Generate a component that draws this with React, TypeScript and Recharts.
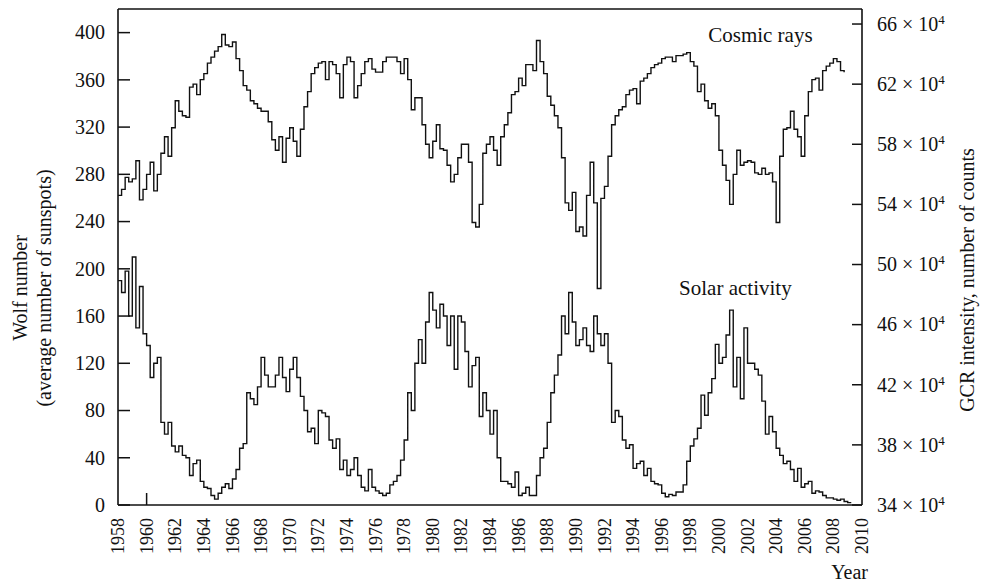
import React from 'react';
import { LineChart, Line, XAxis, YAxis, ReferenceLine, ReferenceDot } from 'recharts';

// quarterly readings, first one at the start of 1958
const START_YEAR = 1958;
const STEPS_PER_YEAR = 4;

// Wolf number (average number of sunspots), 1958.00 ... 2009.25
const wolfNumber: number[] = [
  190, 180, 198, 160, // 1958
  210, 150, 185, 145, // 1959
  135, 108, 120, 125, // 1960
  70, 60, 70, 50, // 1961
  45, 50, 42, 40, // 1962
  25, 35, 38, 20, // 1963
  15, 14, 8, 5, // 1964
  10, 15, 18, 14, // 1965
  22, 30, 48, 52, // 1966
  95, 90, 85, 100, // 1967
  125, 110, 100, 100, // 1968
  110, 125, 108, 96, // 1969
  115, 125, 108, 92, // 1970
  80, 62, 65, 52, // 1971
  80, 78, 75, 55, // 1972
  48, 56, 30, 38, // 1973
  25, 30, 40, 25, // 1974
  15, 12, 30, 15, // 1975
  12, 10, 8, 10, // 1976
  17, 20, 25, 38, // 1977
  55, 95, 80, 120, // 1978
  140, 120, 155, 180, // 1979
  165, 150, 170, 160, // 1980
  135, 160, 115, 160, // 1981
  155, 130, 100, 118, // 1982
  125, 75, 95, 80, // 1983
  60, 80, 40, 20, // 1984
  20, 18, 15, 28, // 1985
  8, 10, 15, 8, // 1986
  8, 25, 40, 48, // 1987
  70, 95, 110, 127, // 1988
  160, 145, 180, 155, // 1989
  135, 140, 150, 135, // 1990
  130, 160, 145, 135, // 1991
  145, 120, 70, 80, // 1992
  75, 55, 48, 51, // 1993
  31, 35, 37, 25, // 1994
  31, 20, 18, 17, // 1995
  10, 7, 9, 8, // 1996
  11, 11, 17, 37, // 1997
  50, 56, 65, 93, // 1998
  76, 95, 107, 136, // 1999
  120, 125, 144, 165, // 2000
  100, 125, 90, 150, // 2001
  120, 120, 115, 110, // 2002
  88, 60, 75, 62, // 2003
  48, 42, 35, 37, // 2004
  30, 20, 31, 15, // 2005
  18, 20, 10, 12, // 2006
  11, 8, 6, 6, // 2007
  5, 4, 5, 3, // 2008
  2, 2, // 2009
];

// GCR intensity, in units of 10^4 counts, 1958.00 ... 2008.75
const gcrIntensity: number[] = [
  54.6, 55.0, 55.8, 55.5, // 1958
  55.7, 56.9, 54.3, 55.0, // 1959
  56.0, 56.8, 54.9, 56.0, // 1960
  57.4, 58.5, 57.2, 59.1, // 1961
  60.9, 60.2, 59.9, 59.8, // 1962
  61.8, 62.0, 61.3, 62.3, // 1963
  62.7, 63.4, 63.8, 64.2, // 1964
  64.5, 65.3, 64.6, 64.5, // 1965
  64.8, 63.7, 62.9, 61.9, // 1966
  61.6, 60.9, 60.7, 60.4, // 1967
  60.2, 60.2, 59.5, 58.3, // 1968
  57.6, 58.5, 56.8, 58.4, // 1969
  59.1, 58.2, 57.2, 59.0, // 1970
  60.5, 61.5, 62.7, 63.1, // 1971
  63.4, 63.5, 62.3, 63.5, // 1972
  63.3, 62.7, 61.1, 63.3, // 1973
  63.8, 63.5, 61.1, 61.9, // 1974
  62.7, 63.5, 63.7, 63.0, // 1975
  62.8, 62.8, 63.5, 63.8, // 1976
  63.8, 63.8, 63.5, 62.7, // 1977
  63.7, 62.3, 60.3, 61.1, // 1978
  61.1, 59.3, 58.0, 57.1, // 1979
  58.2, 59.3, 57.7, 57.6, // 1980
  56.6, 55.5, 56.0, 57.1, // 1981
  58.0, 58.0, 56.8, 52.8, // 1982
  52.5, 54.0, 57.4, 58.0, // 1983
  58.5, 57.6, 56.6, 58.5, // 1984
  59.3, 60.1, 61.3, 61.5, // 1985
  62.4, 61.9, 63.3, 63.3, // 1986
  62.9, 64.9, 63.5, 62.7, // 1987
  61.2, 60.6, 59.9, 59.1, // 1988
  57.1, 54.1, 53.6, 54.8, // 1989
  52.2, 52.5, 51.9, 54.6, // 1990
  56.8, 54.1, 48.4, 54.4, // 1991
  55.2, 57.2, 59.3, 59.9, // 1992
  60.3, 60.5, 61.3, 61.6, // 1993
  61.7, 60.7, 62.2, 62.4, // 1994
  62.7, 63.1, 63.3, 63.4, // 1995
  63.7, 63.8, 63.8, 63.5, // 1996
  63.9, 63.9, 64.0, 64.1, // 1997
  63.5, 63.2, 61.5, 62.0, // 1998
  60.9, 60.4, 60.7, 59.9, // 1999
  57.6, 56.6, 55.6, 54.0, // 2000
  56.0, 57.6, 56.6, 56.8, // 2001
  56.9, 56.8, 56.1, 56.0, // 2002
  56.4, 56.0, 56.1, 55.5, // 2003
  52.8, 57.2, 59.0, 59.1, // 2004
  60.2, 59.0, 58.5, 57.2, // 2005
  59.9, 61.5, 62.3, 62.4, // 2006
  61.6, 62.9, 63.2, 63.4, // 2007
  63.7, 63.5, 62.9, 62.8, // 2008
];

const yearTicks = [
  1958, 1960, 1962, 1964, 1966, 1968, 1970, 1972, 1974, 1976, 1978, 1980, 1982, 1984,
  1986, 1988, 1990, 1992, 1994, 1996, 1998, 2000, 2002, 2004, 2006, 2008, 2010,
];
const wolfTicks = [0, 40, 80, 120, 160, 200, 240, 280, 320, 360, 400];
const gcrTicks = [34, 38, 42, 46, 50, 54, 58, 62, 66];
const innerYearTicks = [1960];

const FONT = '"Liberation Serif", "Times New Roman", serif';
const INK = '#111';

const chartData = wolfNumber.map((wolf, i) => ({
  year: START_YEAR + i / STEPS_PER_YEAR,
  wolf,
  gcr: i < gcrIntensity.length ? gcrIntensity[i] : null,
}));

const WolfTick = (props: any) => {
  const { x, y, payload } = props;
  return (
    <g>
      <line x1={x + 13} x2={x + 25} y1={y} y2={y} stroke={INK} strokeWidth={1.5} />
      <text x={x} y={y} dy="0.34em" textAnchor="end" fontFamily={FONT} fontSize={20} fill={INK}>
        {payload.value}
      </text>
    </g>
  );
};

const GcrTick = (props: any) => {
  const { x, y, payload } = props;
  return (
    <g>
      <line x1={x - 25} x2={x - 15} y1={y} y2={y} stroke={INK} strokeWidth={1.5} />
      <text x={x} y={y} dy="0.34em" textAnchor="start" fontFamily={FONT} fontSize={20} fill={INK}>
        <tspan>{payload.value} × 10</tspan>
        <tspan dy={-7} fontSize={13}>4</tspan>
      </text>
    </g>
  );
};

const YearTick = (props: any) => {
  const { x, y, payload } = props;
  return (
    <g>
      {innerYearTicks.includes(payload.value) && (
        <line x1={x} x2={x} y1={y - 13} y2={y - 25} stroke={INK} strokeWidth={1.5} />
      )}
      <text
        x={x}
        y={y}
        dy="0.34em"
        transform={`rotate(-90, ${x}, ${y})`}
        textAnchor="end"
        fontFamily={FONT}
        fontSize={18}
        fill={INK}
      >
        {payload.value}
      </text>
    </g>
  );
};

const WolfTitle = (props: any) => {
  const vb = props.viewBox ?? { x: 0, y: 9, width: 118, height: 496 };
  const cy = vb.y + vb.height / 2 + 31;
  return (
    <g fontFamily={FONT} fontSize={20} fill={INK}>
      <text x={vb.x + 27} y={cy} transform={`rotate(-90, ${vb.x + 27}, ${cy})`} textAnchor="middle">
        Wolf number
      </text>
      <text x={vb.x + 51} y={cy} transform={`rotate(-90, ${vb.x + 51}, ${cy})`} textAnchor="middle">
        (average number of sunspots)
      </text>
    </g>
  );
};

const GcrTitle = (props: any) => {
  const vb = props.viewBox ?? { x: 862, y: 9, width: 119, height: 496 };
  const cx = vb.x + 112;
  const cy = vb.y + vb.height / 2 + 23;
  return (
    <text
      x={cx}
      y={cy}
      transform={`rotate(-90, ${cx}, ${cy})`}
      textAnchor="middle"
      fontFamily={FONT}
      fontSize={20}
      fill={INK}
    >
      GCR intensity, number of counts
    </text>
  );
};

const YearTitle = (props: any) => {
  const vb = props.viewBox ?? { x: 118, y: 505, width: 744, height: 78 };
  return (
    <text x={vb.x + vb.width + 6} y={vb.y + vb.height - 4} textAnchor="end" fontFamily={FONT} fontSize={20} fill={INK}>
      Year
    </text>
  );
};

const App = () => {
  return (
    <div style={{ width: 981, height: 583, background: '#fff' }}>
      <style>{'body{margin:0;background:#fff}'}</style>
      <LineChart width={981} height={583} data={chartData} margin={{ top: 9, right: 0, bottom: 0, left: 0 }}>
        <XAxis
          dataKey="year"
          type="number"
          domain={[1958, 2010]}
          ticks={yearTicks}
          interval={0}
          allowDataOverflow
          height={78}
          tickSize={0}
          tickMargin={13}
          tickLine={false}
          axisLine={{ stroke: INK, strokeWidth: 1.6 }}
          tick={YearTick}
          label={YearTitle}
        />
        <YAxis
          yAxisId="left"
          orientation="left"
          domain={[0, 420]}
          ticks={wolfTicks}
          interval={0}
          allowDataOverflow
          width={118}
          tickSize={0}
          tickMargin={13}
          tickLine={false}
          axisLine={{ stroke: INK, strokeWidth: 1.6 }}
          tick={WolfTick}
          label={WolfTitle}
        />
        <YAxis
          yAxisId="right"
          orientation="right"
          domain={[34, 67]}
          ticks={gcrTicks}
          interval={0}
          allowDataOverflow
          width={119}
          tickSize={0}
          tickMargin={15}
          tickLine={false}
          axisLine={{ stroke: INK, strokeWidth: 1.6 }}
          tick={GcrTick}
          label={GcrTitle}
        />
        <ReferenceLine yAxisId="left" y={420} stroke={INK} strokeWidth={1.6} />
        <Line
          yAxisId="right"
          dataKey="gcr"
          type="stepAfter"
          stroke={INK}
          strokeWidth={1.4}
          dot={false}
          activeDot={false}
          isAnimationActive={false}
        />
        <Line
          yAxisId="left"
          dataKey="wolf"
          type="stepAfter"
          stroke={INK}
          strokeWidth={1.4}
          dot={false}
          activeDot={false}
          isAnimationActive={false}
        />
        <ReferenceDot
          yAxisId="left"
          x={2002.9}
          y={398}
          r={0}
          label={{ value: 'Cosmic rays', position: 'center', fill: INK, fontSize: 21, fontFamily: FONT }}
        />
        <ReferenceDot
          yAxisId="left"
          x={2001.15}
          y={184}
          r={0}
          label={{ value: 'Solar activity', position: 'center', fill: INK, fontSize: 21, fontFamily: FONT }}
        />
      </LineChart>
    </div>
  );
};

export default App;
